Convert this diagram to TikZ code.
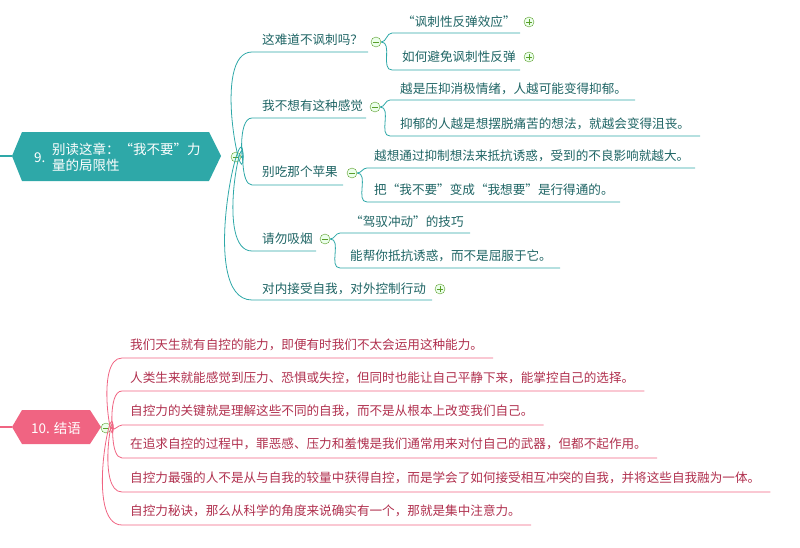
\documentclass[tikz,border=0pt]{standalone}
\usepackage{fontspec}
\setmainfont{Noto Sans CJK SC}
\begin{document}
\definecolor{teal9}{HTML}{2EA8A8}
\definecolor{tealtxt}{HTML}{1E6464}
\definecolor{pink10}{HTML}{F06482}
\definecolor{pinktxt}{HTML}{B0304E}
\definecolor{icongreen}{HTML}{5A9E2A}
\begin{tikzpicture}[x=1pt,y=-1pt,
	tline/.style={teal9, thick},
	pline/.style={pink10, thick},
	ttext/.style={anchor=west, inner sep=0pt, text=tealtxt, font=\fontsize{12.6}{14}\selectfont},
	ptext/.style={anchor=west, inner sep=0pt, text=pinktxt, font=\fontsize{12.6}{14}\selectfont},
	iconbox/.style={circle, draw=icongreen, fill=green!8, minimum size=10pt, inner sep=0pt}
	]
	\useasboundingbox (0,0) rectangle (800,547);

	% minus and plus icons
	\newcommand{\minusicon}[2]{\node[iconbox] (#1) at (#2) {}; \draw[icongreen, thick] ([xshift=-3pt]#1.center) -- ([xshift=3pt]#1.center);}
	\newcommand{\plusicon}[2]{\node[iconbox] (#1) at (#2) {}; \draw[icongreen, thick] ([xshift=-3pt]#1.center) -- ([xshift=3pt]#1.center) ([yshift=-3pt]#1.center) -- ([yshift=3pt]#1.center);}

	% chapter 9
	\fill[teal9] (12,156) -- (22,132) -- (209,132) -- (221,156) -- (209,181) -- (22,181) -- cycle;
	\draw[teal9, ultra thick] (0,156) -- (12,156);
	\node[anchor=west, text=white, font=\fontsize{13.5}{16}\selectfont, inner sep=0pt] (t9num) at (34,158) {9.};
	\node[anchor=west, text=white, font=\fontsize{13.5}{16}\selectfont, align=left, inner sep=0pt] (t9) at (52,157) {别读这章：“我不要”力\\量的局限性};
	\minusicon{m9}{236,157}

	\node[ttext] (a1) at (262,40) {这难道不讽刺吗？};
	\node[ttext] (a2) at (262,106) {我不想有这种感觉};
	\node[ttext] (a3) at (262,172) {别吃那个苹果};
	\node[ttext] (a4) at (262,239) {请勿吸烟};
	\node[ttext] (a5) at (262,289) {对内接受自我，对外控制行动};

	\foreach \y/\e in {52/368, 118/366, 185/343, 251/316, 300/432}
		\draw[tline] (m9.east) -- (243,157) to[out=\ifnum\y<157 -90\else 90\fi, in=180] (252,\y) -- (\e,\y);

	\minusicon{m1}{376,42}
	\minusicon{m2}{375,107}
	\minusicon{m3}{352,173}
	\minusicon{m4}{325,239}
	\plusicon{p5}{440,289}

	% children of the sub-topics
	\node[ttext] (b1) at (402,22) {“讽刺性反弹效应”};
	\node[ttext] (b2) at (402,57) {如何避免讽刺性反弹};
	\plusicon{p1}{529,22}
	\plusicon{p2}{529,57}
	\node[ttext] (c1) at (400,89) {越是压抑消极情绪，人越可能变得抑郁。};
	\node[ttext] (c2) at (400,124) {抑郁的人越是想摆脱痛苦的想法，就越会变得沮丧。};
	\node[ttext] (d1) at (374,156) {越想通过抑制想法来抵抗诱惑，受到的不良影响就越大。};
	\node[ttext] (d2) at (374,190) {把“我不要”变成“我想要”是行得通的。};
	\node[ttext] (e1) at (350,222) {“驾驭冲动”的技巧};
	\node[ttext] (e2) at (350,256) {能帮你抵抗诱惑，而不是屈服于它。};

	\draw[tline] (m1.east) to[out=0,in=180] (392,33) -- (520,33);
	\draw[tline] (m1.east) to[out=0,in=180] (392,70) -- (520,70);
	\draw[tline] (m2.east) to[out=0,in=180] (390,100) -- (635,100);
	\draw[tline] (m2.east) to[out=0,in=180] (390,136) -- (700,136);
	\draw[tline] (m3.east) to[out=0,in=180] (367,168) -- (695,168);
	\draw[tline] (m3.east) to[out=0,in=180] (367,202) -- (620,202);
	\draw[tline] (m4.east) to[out=0,in=180] (340,233) -- (470,233);
	\draw[tline] (m4.east) to[out=0,in=180] (340,268) -- (560,268);

	% chapter 10
	\fill[pink10] (12,427) -- (22,410) -- (90,410) -- (101,427) -- (90,444) -- (22,444) -- cycle;
	\draw[pink10, ultra thick] (0,427) -- (12,427);
	\node[text=white, font=\fontsize{13.5}{16}\selectfont, inner sep=0pt] (t10) at (56,428) {10. 结语};
	\minusicon{m10}{106,428}

	\node[ptext] (f1) at (130,345) {我们天生就有自控的能力，即便有时我们不太会运用这种能力。};
	\node[ptext] (f2) at (130,378) {人类生来就能感觉到压力、恐惧或失控，但同时也能让自己平静下来，能掌控自己的选择。};
	\node[ptext] (f3) at (130,411) {自控力的关键就是理解这些不同的自我，而不是从根本上改变我们自己。};
	\node[ptext] (f4) at (130,444) {在追求自控的过程中，罪恶感、压力和羞愧是我们通常用来对付自己的武器，但都不起作用。};
	\node[ptext] (f5) at (130,478) {自控力最强的人不是从与自我的较量中获得自控，而是学会了如何接受相互冲突的自我，并将这些自我融为一体。};
	\node[ptext] (f6) at (130,511) {自控力秘诀，那么从科学的角度来说确实有一个，那就是集中注意力。};

	\foreach \n/\y in {f1/358, f2/391, f3/425, f4/458, f5/492, f6/525}
		\draw[pline] (m10.east) -- (113,428) to[out=\ifnum\y<428 -90\else 90\fi, in=180] (122,\y) -- ([xshift=10pt]\n.east |- 0,\y);
\end{tikzpicture}
\end{document}
